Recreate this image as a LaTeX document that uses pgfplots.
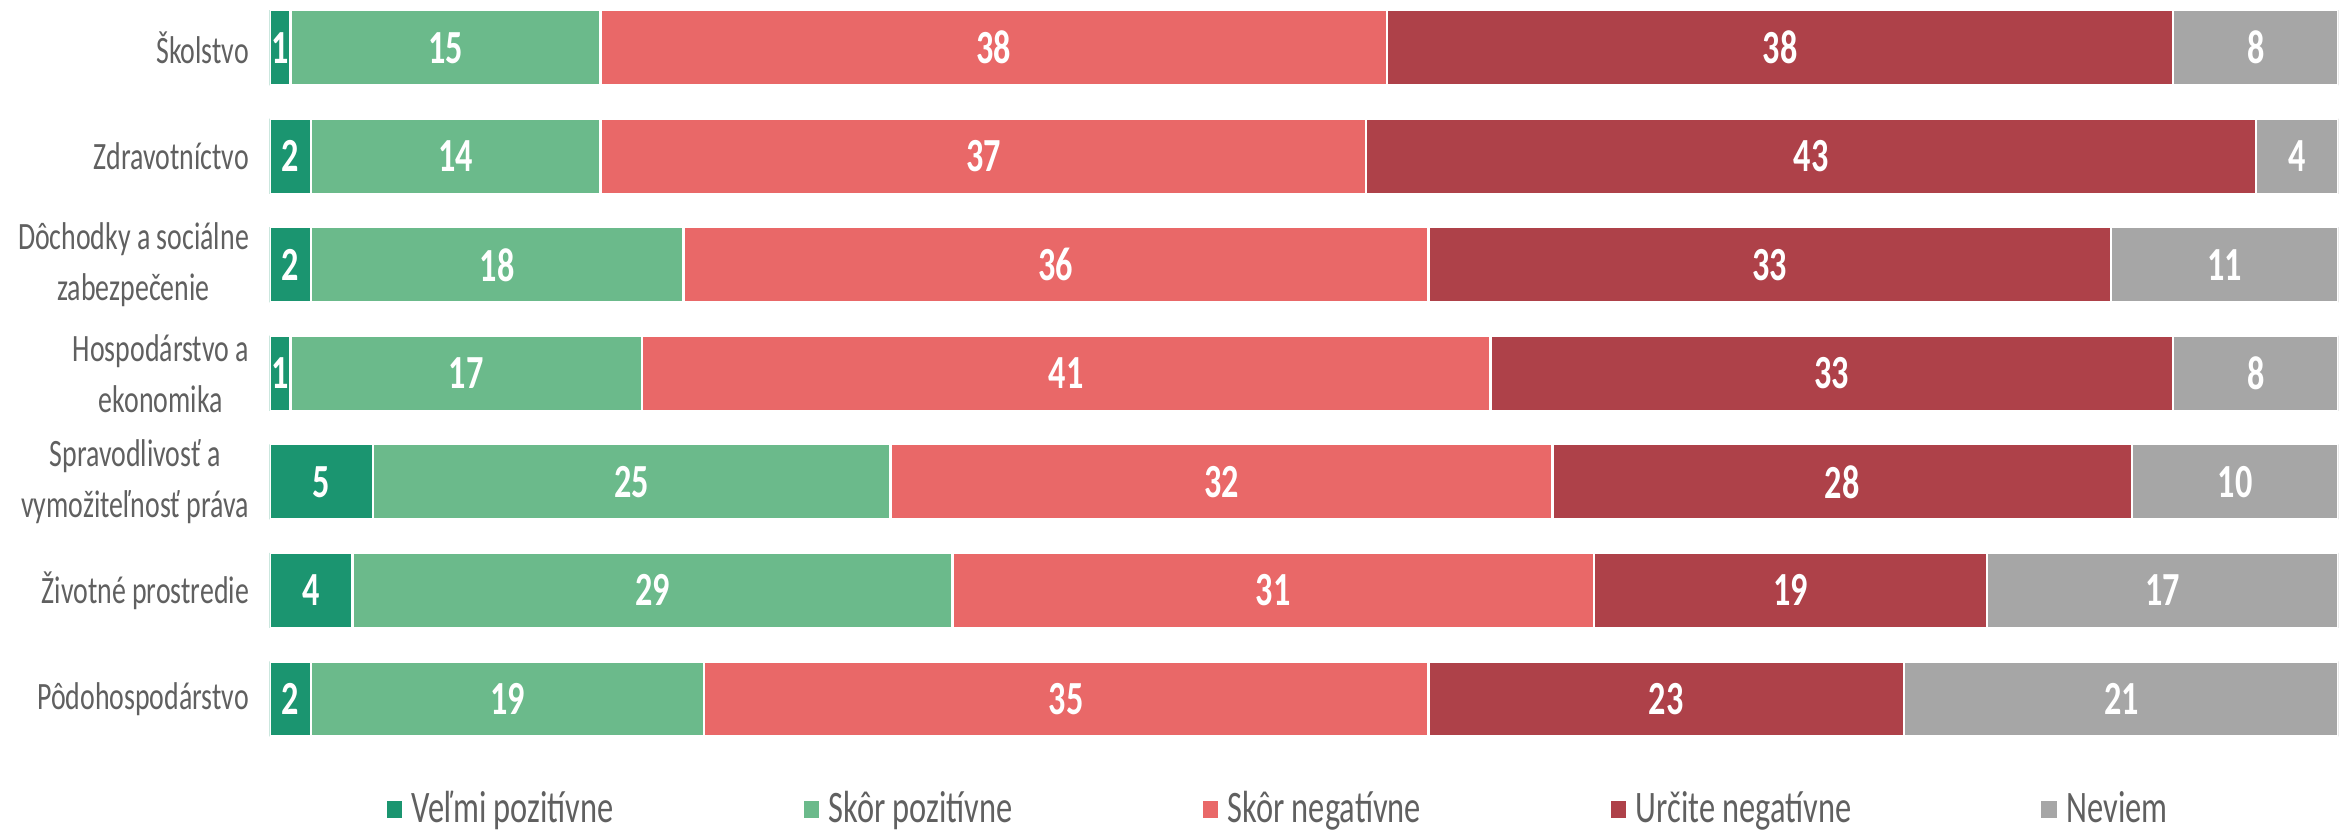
\documentclass[border=0pt]{standalone}
\usepackage{pgfplots}
\pgfplotsset{compat=1.18}
\usepackage{fontspec}
\setmainfont{Carlito}

\definecolor{vpoz}{HTML}{1B9570}
\definecolor{spoz}{HTML}{6BBA8B}
\definecolor{sneg}{HTML}{E96868}
\definecolor{uneg}{HTML}{AE4149}
\definecolor{nev}{HTML}{A6A6A6}
\definecolor{txt}{HTML}{606060}

\begin{document}
\begin{tikzpicture}
\begin{axis}[
    xbar stacked,
    scale only axis,
    width=20.66cm, height=8.3cm,
    xmin=0, xmax=100,
    ymin=-0.44, ymax=7.22, y dir=reverse,
    bar width=0.75cm,
    axis line style={draw=none},
    xtick=\empty,
    ytick={0,...,6},
    yticklabels={Školstvo, Zdravotníctvo, {Dôchodky a sociálne\\zabezpečenie},
        {Hospodárstvo a\\ekonomika}, {Spravodlivosť a\\vymožiteľnosť práva},
        Životné prostredie, Pôdohospodárstvo},
    major tick length=0pt,
    yticklabel style={align=center, text=txt, xscale=0.72,
        font=\fontsize{11}{14.5}\selectfont, inner xsep=0pt, xshift=-0.28cm},
    every axis plot/.append style={draw=white, line width=0.7pt},
    visualization depends on=rawx\as\rawx,
    nodes near coords={\scalebox{0.72}[1]{\pgfmathprintnumber[assume math mode=true]{\rawx}}},
    every node near coord/.append style={anchor=center, text=white,
        font=\bfseries\fontsize{13.5}{15}\selectfont},
    legend columns=5,
    legend style={at={(0.488,0)}, anchor=south, draw=none, text=txt,
        inner sep=0pt, outer sep=0pt,
        font=\fontsize{12.8}{14}\selectfont,
        nodes={inner ysep=1pt},
        /tikz/every even column/.append style={column sep=1.8cm}},
    legend image code/.code={\fill[#1] (0cm,-0.1cm) rectangle (0.18cm,0.1cm);},
]
\addplot[fill=vpoz] coordinates {(1,0) (2,1) (2,2) (1,3) (5,4) (4,5) (2,6)};
\addplot[fill=spoz] coordinates {(15,0) (14,1) (18,2) (17,3) (25,4) (29,5) (19,6)};
\addplot[fill=sneg] coordinates {(38,0) (37,1) (36,2) (41,3) (32,4) (31,5) (35,6)};
\addplot[fill=uneg] coordinates {(38,0) (43,1) (33,2) (33,3) (28,4) (19,5) (23,6)};
\addplot[fill=nev] coordinates {(8,0) (4,1) (11,2) (8,3) (10,4) (17,5) (21,6)};
\addlegendentry{\scalebox{0.72}[1]{Veľmi pozitívne}}
\addlegendentry{\scalebox{0.72}[1]{Skôr pozitívne}}
\addlegendentry{\scalebox{0.72}[1]{Skôr negatívne}}
\addlegendentry{\scalebox{0.72}[1]{Určite negatívne}}
\addlegendentry{\scalebox{0.72}[1]{Neviem}}
\end{axis}
\path (current bounding box.west) ++(-0.18cm,0);
\end{tikzpicture}
\end{document}
